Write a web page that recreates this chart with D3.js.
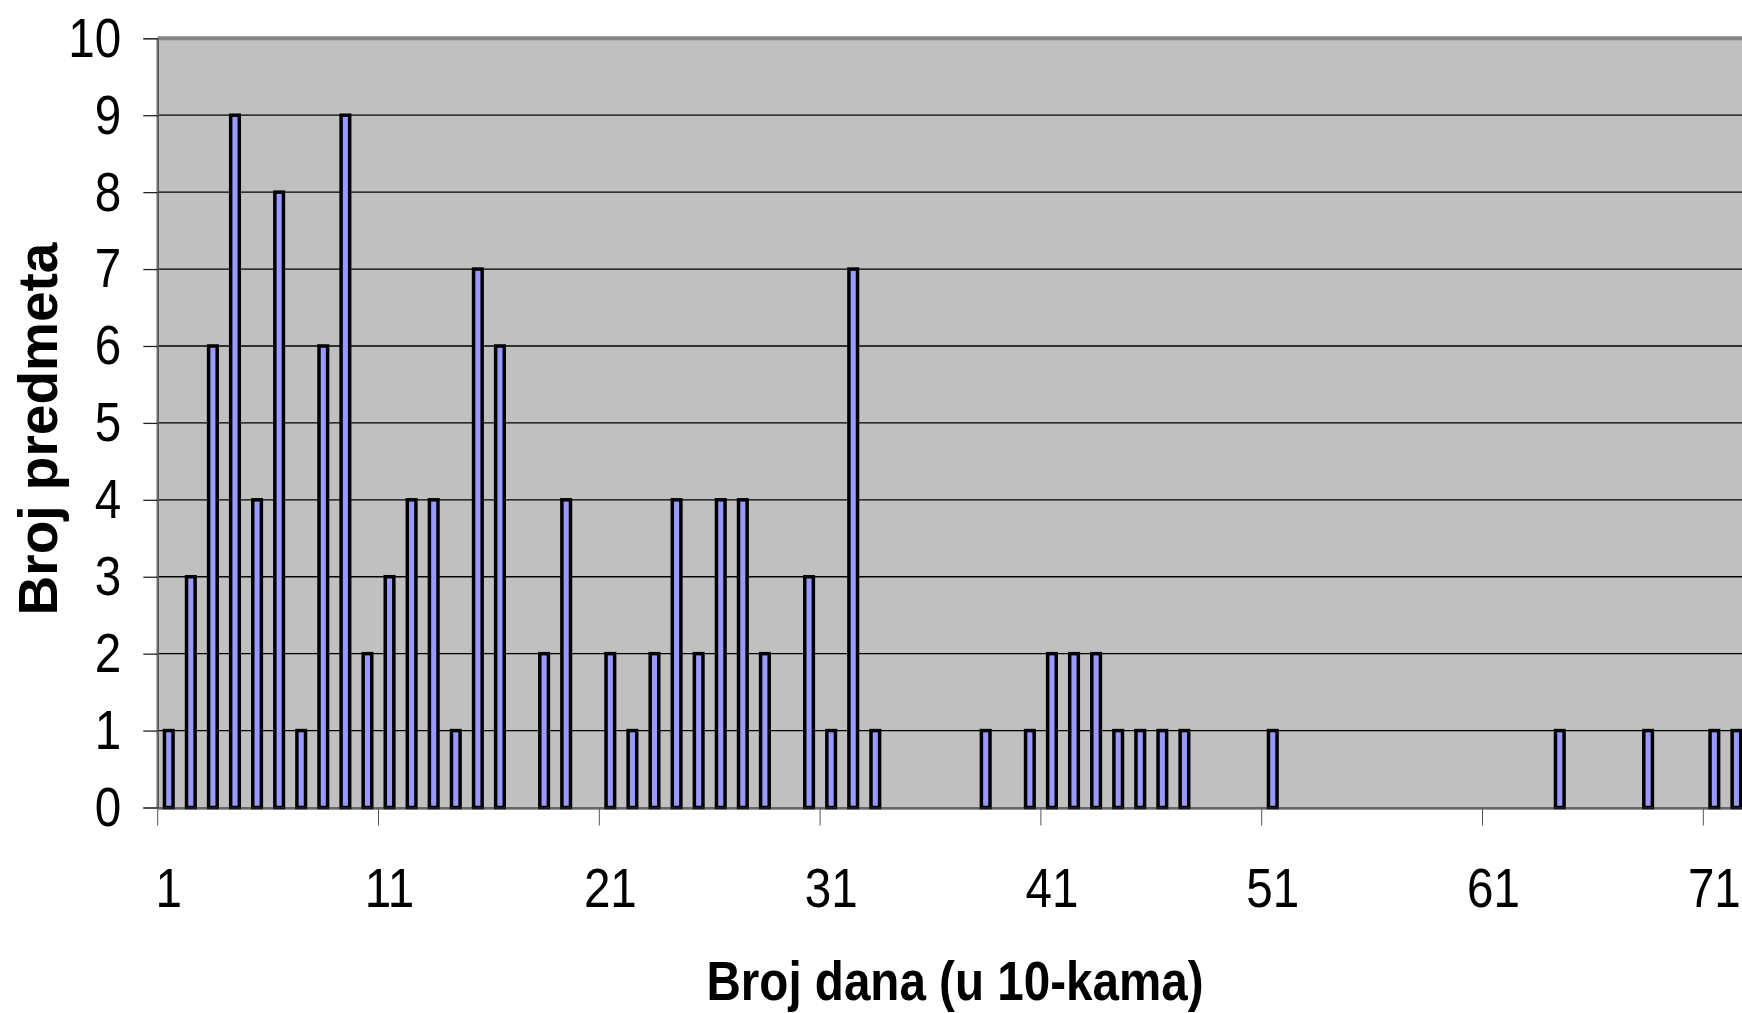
<!DOCTYPE html>
<html>
<head>
<meta charset="utf-8">
<script src="https://cdn.jsdelivr.net/npm/d3@7/dist/d3.min.js"></script>
<style>
  html, body { margin: 0; padding: 0; background: #ffffff; }
  svg { display: block; }
  text { font-family: "Liberation Sans", Arial, sans-serif; }
</style>
</head>
<body>
<svg id="chart" width="1742" height="1013"></svg>
<script>
// ---- data ----
const categories = [
  1, 2, 3, 4, 5, 6, 7, 8, 9, 10,
  11, 12, 13, 14, 15, 16, 17, 18, 19, 20,
  21, 22, 23, 24, 25, 26, 27, 28, 29, 30,
  31, 32, 33, 34, 35, 36, 37, 38, 39, 40,
  41, 42, 43, 44, 45, 46, 47, 48, 49, 50,
  51, 52, 53, 54, 55, 56, 57, 58, 59, 60,
  61, 62, 63, 64, 65, 66, 67, 68, 69, 70,
  71, 72
];
const values = [
  1, 3, 6, 9, 4, 8, 1, 6, 9, 2,
  3, 4, 4, 1, 7, 6, 0, 2, 4, 0,
  2, 1, 2, 4, 2, 4, 4, 2, 0, 3,
  1, 7, 1, 0, 0, 0, 0, 1, 0, 1,
  2, 2, 2, 1, 1, 1, 1, 0, 0, 0,
  1, 0, 0, 0, 0, 0, 0, 0, 0, 0,
  0, 0, 0, 1, 0, 0, 0, 1, 0, 0,
  1, 1
];
const xTickLabels = [1, 11, 21, 31, 41, 51, 61, 71];
const yTickLabels = [0, 1, 2, 3, 4, 5, 6, 7, 8, 9, 10];
const xTitle = "Broj dana (u 10-kama)";
const yTitle = "Broj predmeta";

// ---- layout ----
const W = 1742, H = 1013;
const plotLeft = 157.7, plotTop = 38.3, plotBottom = 807.5;
const catWidth = 22.08;
const plotRight = plotLeft + categories.length * catWidth;
const SX = 0.85; // horizontal condensation of the text

const svg = d3.select("#chart");

const x = d3.scaleBand()
  .domain(categories)
  .range([plotLeft, plotRight])
  .paddingInner(0).paddingOuter(0);

const y = d3.scaleLinear()
  .domain([0, 10])
  .range([plotBottom, plotTop]);

// plot background
svg.append("rect")
  .attr("x", plotLeft).attr("y", plotTop)
  .attr("width", plotRight - plotLeft).attr("height", plotBottom - plotTop)
  .attr("fill", "#c0c0c0");

// gridlines
svg.append("g").selectAll("line")
  .data(yTickLabels.filter(v => v > 0 && v < 10))
  .join("line")
  .attr("x1", plotLeft).attr("x2", W)
  .attr("y1", d => y(d)).attr("y2", d => y(d))
  .attr("stroke", "#000").attr("stroke-width", 1.3);

// plot border (top + left, gray)
svg.append("line")
  .attr("x1", plotLeft).attr("x2", W)
  .attr("y1", plotTop).attr("y2", plotTop)
  .attr("stroke", "#858585").attr("stroke-width", 4);
svg.append("line")
  .attr("x1", plotLeft).attr("x2", plotLeft)
  .attr("y1", plotTop).attr("y2", plotBottom)
  .attr("stroke", "#858585").attr("stroke-width", 2.6);
svg.append("line")
  .attr("x1", plotLeft).attr("x2", W)
  .attr("y1", plotBottom + 1).attr("y2", plotBottom + 1)
  .attr("stroke", "#9a9a9a").attr("stroke-width", 3);

// bars
const barW = 8.6;
svg.append("g").selectAll("rect")
  .data(categories.map((c, i) => ({ c, v: values[i] })).filter(d => d.v > 0))
  .join("rect")
  .attr("x", d => x(d.c) + x.bandwidth() / 2 - barW / 2)
  .attr("y", d => y(d.v))
  .attr("width", barW)
  .attr("height", d => y(0) - y(d.v))
  .attr("fill", "#9999ff")
  .attr("stroke", "#000")
  .attr("stroke-width", 3.5);

// y axis
const yAxis = svg.append("g")
  .attr("transform", `translate(${plotLeft},0)`)
  .call(d3.axisLeft(y).tickValues(yTickLabels).tickFormat(d3.format("d")).tickSize(14.4).tickPadding(22));
yAxis.select(".domain").attr("stroke", "#444").attr("stroke-width", 1);
yAxis.selectAll(".tick line").attr("stroke", "#222").attr("stroke-width", 1.3);
yAxis.selectAll(".tick text")
  .attr("font-size", 56)
  .attr("fill", "#000")
  .attr("x", -36.4 / SX)
  .attr("transform", `scale(${SX},1)`);

// x axis (labels centred on categories)
const xAxis = svg.append("g")
  .attr("transform", `translate(0,${plotBottom})`)
  .call(d3.axisBottom(x).tickValues(xTickLabels).tickSize(0).tickPadding(59.5));
xAxis.select(".domain").attr("stroke", "#333").attr("stroke-width", 1);
xAxis.selectAll(".tick text")
  .attr("font-size", 56)
  .attr("fill", "#000")
  .attr("transform", `scale(${SX},1)`);

// x tick marks between categories
svg.append("g").selectAll("line")
  .data(xTickLabels)
  .join("line")
  .attr("x1", d => x(d)).attr("x2", d => x(d))
  .attr("y1", plotBottom).attr("y2", plotBottom + 18)
  .attr("stroke", "#555").attr("stroke-width", 1);

// axis titles
svg.append("text")
  .attr("transform", `translate(955,1000) scale(${SX},1)`)
  .attr("text-anchor", "middle")
  .attr("font-size", 56)
  .attr("font-weight", "bold")
  .attr("fill", "#000")
  .text(xTitle);

svg.append("text")
  .attr("transform", `translate(57,429) rotate(-90)`)
  .attr("text-anchor", "middle")
  .attr("font-size", 55)
  .attr("font-weight", "bold")
  .attr("fill", "#000")
  .text(yTitle);
</script>
</body>
</html>
